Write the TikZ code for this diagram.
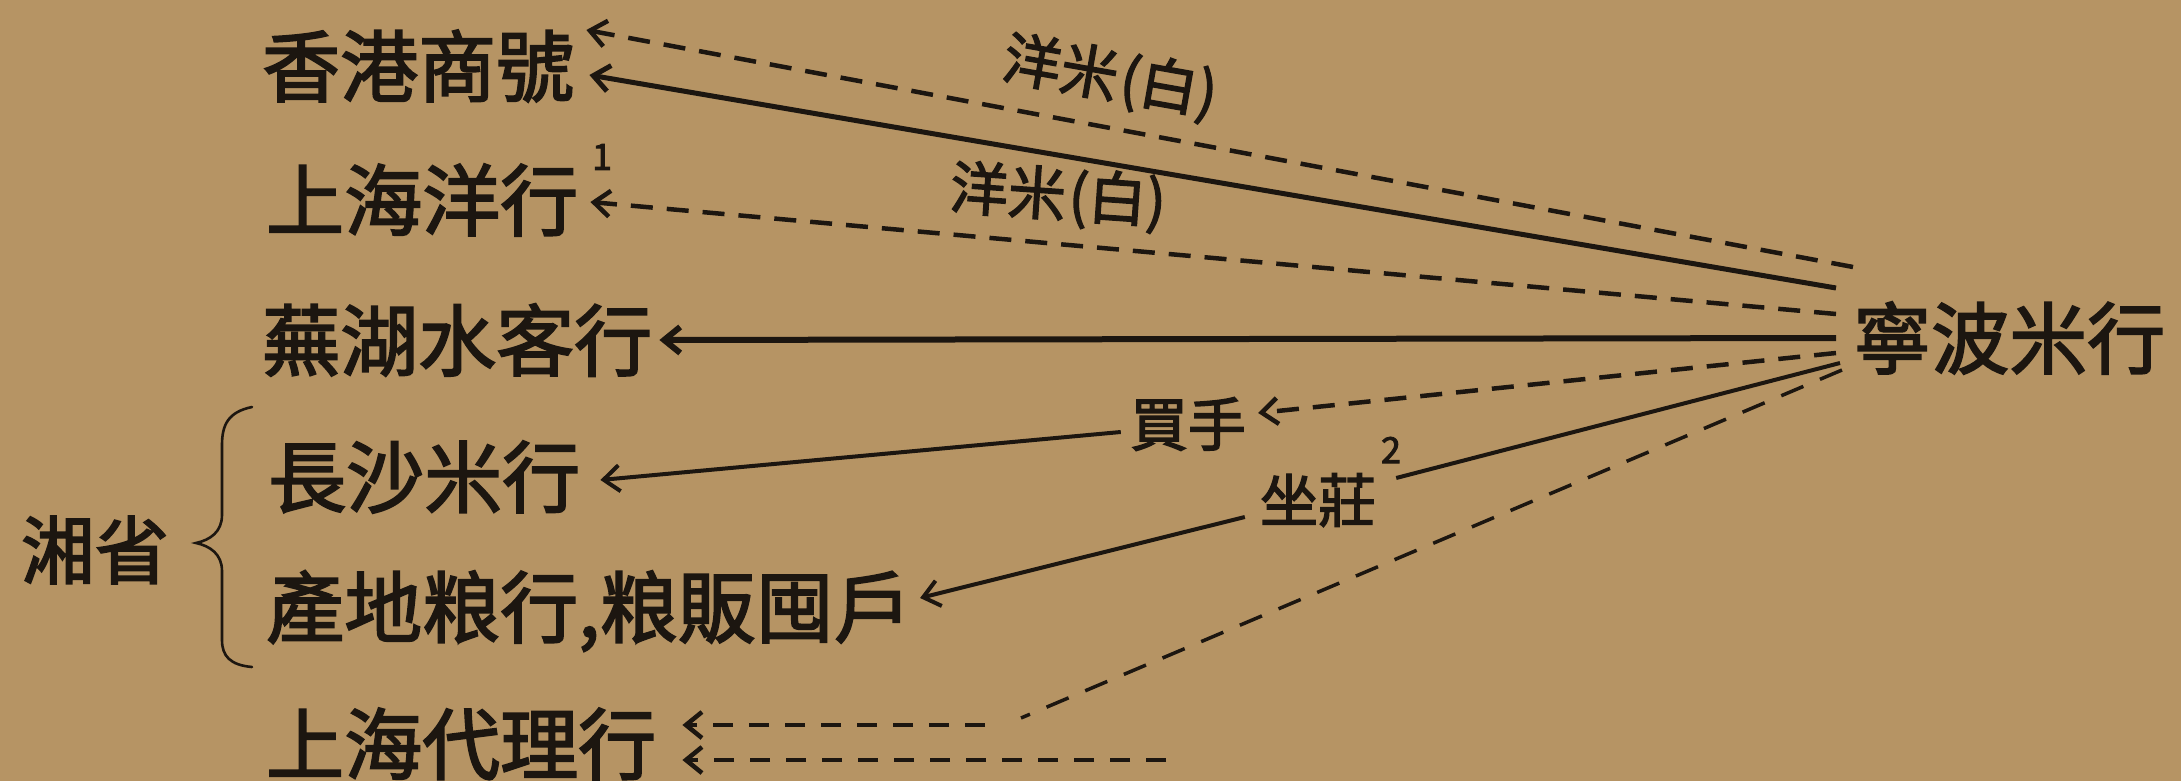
\documentclass[tikz,border=0pt]{standalone}
\usepackage{fontspec}
\newfontfamily\cjk[FakeBold=2.4]{Noto Sans CJK TC}
\usetikzlibrary{arrows.meta,calc}
\definecolor{paper}{RGB}{182,148,100}
\definecolor{ink}{RGB}{28,22,16}
\begin{document}
\begin{tikzpicture}[x=1pt,y=-1pt,
  lab/.style={font={\cjk\fontsize{78}{80}\selectfont}, text=ink, inner sep=0pt, anchor=west},
  small/.style={font={\cjk\fontsize{58}{60}\selectfont}, text=ink, inner sep=0pt},
  supnum/.style={font={\cjk\fontsize{36}{38}\selectfont}, text=ink, inner sep=0pt},
  solidarr/.style={draw=ink, line width=4.5pt, -{Straight Barb[length=16pt,width=26pt]}},
  dasharr/.style={solidarr, dash pattern=on 22pt off 14pt},
  dashplain/.style={draw=ink, line width=4pt, dash pattern=on 24pt off 18pt},
  bracepen/.style={draw=ink, line width=2.6pt, line cap=round}
]
\path[use as bounding box, fill=paper] (0,0) rectangle (2181,781);

% nodes
\node[lab] (hk)  at (262,66)  {香港商號};
\node[lab] (shy) at (266,200) {上海洋行};
\node[lab] (wh)  at (262,340) {蕪湖水客行};
\node[lab] (cs)  at (268,477) {長沙米行};
\node[lab] (cd)  at (266,611) {產地粮行,粮販囤戶};
\node[lab] (dl)  at (266,744) {上海代理行};
\node[lab] (nb)  at (1853,338) {寧波米行};
\node[font={\cjk\fontsize{74}{76}\selectfont}, text=ink, inner sep=0pt] (xs) at (95,550) {湘省};

\node[small, rotate=-10] (lb1) at (1110,78) {洋米\hspace{3pt}(白)};
\node[small, rotate=-4] (lb2) at (1058,197) {洋米\hspace{3pt}(白)};
\node[small] (mai) at (1188,424) {買手};
\node[small] (zz)  at (1318,500) {坐莊};
\node[supnum] (n1) at (602,157) {1};
\node[supnum] (n2) at (1391,450) {2};

% start points on 寧波米行
\coordinate (s1) at ($(nb.west)+(0,-71)$);
\coordinate (s2) at ($(nb.west)+(-17,-50)$);
\coordinate (s3) at ($(nb.west)+(-17,-24)$);
\coordinate (s4) at ($(nb.west)+(-17,0)$);
\coordinate (s5) at ($(nb.west)+(-17,15)$);
\coordinate (s6) at ($(nb.west)+(-13,25)$);
\coordinate (s7) at ($(nb.west)+(-11,32)$);

% end points
\coordinate (hkA) at ($(hk.east)+(12,-36)$);
\coordinate (hkB) at ($(hk.east)+(15,9)$);
\coordinate (shyA) at ($(shy.east)+(12,2)$);
\coordinate (whA) at ($(wh.east)+(7,0)$);
\coordinate (csA) at ($(cs.east)+(20,3)$);
\coordinate (cdA) at ($(cd.east)+(8,-13)$);
\coordinate (dlA) at ($(dl.east)+(26,-19)$);
\coordinate (dlB) at ($(dl.east)+(26,16)$);
\coordinate (maiA) at ($(mai.east)+(12,-11)$);
\coordinate (maiB) at ($(mai.west)+(-9,8)$);
\coordinate (zzA) at ($(zz.east)+(20,-22)$);
\coordinate (zzB) at ($(zz.west)+(-15,17)$);
\coordinate (bendA) at (1021,718);
\coordinate (bendB) at (985,725);
\coordinate (lowStart) at (1166,760);

% connectors
\draw[dasharr] (s1) -- (hkA);
\draw[solidarr, line width=5pt] (s2) -- (hkB);
\draw[dasharr] (s3) -- (shyA);
\draw[solidarr, line width=6pt] (s4) -- (whA);
\draw[dasharr] (s5) -- (maiA);
\draw[solidarr, line width=4pt] (maiB) -- (csA);
\draw[draw=ink, line width=4pt] (s6) -- (zzA);
\draw[solidarr, line width=4pt] (zzB) -- (cdA);
\draw[dashplain, line width=3.5pt] (s7) -- (bendA);
\draw[dasharr, dash pattern=on 20pt off 16pt] (bendB) -- (dlA);
\draw[dasharr, dash pattern=on 20pt off 16pt] (lowStart) -- (dlB);

% brace
\draw[bracepen] (252,407) .. controls (228,412) and (222,425) .. (222,445)
  -- (222,515) .. controls (222,532) and (210,540) .. (196,543)
  .. controls (210,546) and (222,554) .. (222,571)
  -- (222,640) .. controls (222,656) and (230,665) .. (252,667);
\end{tikzpicture}
\end{document}
